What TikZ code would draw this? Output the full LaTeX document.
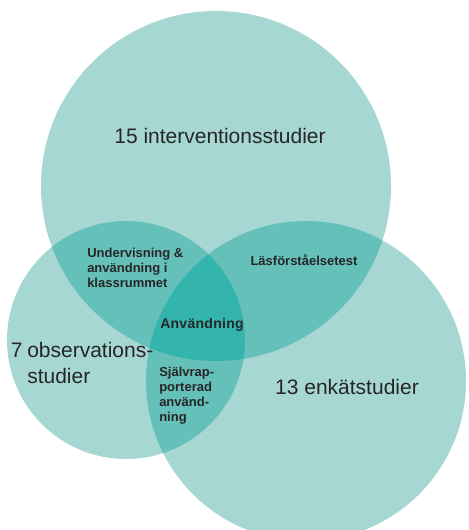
\documentclass[tikz,border=0pt]{standalone}
\usepackage{fontspec}
\setmainfont{Liberation Sans}
\definecolor{cone}{HTML}{A7D7D3}
\definecolor{ctwo}{HTML}{66C0BA}
\definecolor{cthree}{HTML}{33B5AD}
\definecolor{ink}{HTML}{262626}
\tikzset{
  bigtext/.style={font=\fontsize{15.75pt}{19.5pt}\selectfont, text=ink, inner sep=0pt},
  smalltext/.style={font=\fontsize{9.75pt}{11.1pt}\selectfont\bfseries, text=ink, inner sep=0pt, align=left},
}
\begin{document}
\begin{tikzpicture}[x=0.75pt,y=-0.75pt]
\useasboundingbox (0,0) rectangle (468,530);
\coordinate (ct) at (216,186);
\coordinate (cl) at (126,340);
\coordinate (cr) at (306,381);
\def\rt{131.25pt}
\def\rl{89.25pt}
\def\rr{120pt}
\fill[cone] (ct) circle[radius=\rt];
\fill[cone] (cl) circle[radius=\rl];
\fill[cone] (cr) circle[radius=\rr];
\begin{scope}
  \clip (ct) circle[radius=\rt];
  \fill[ctwo] (cl) circle[radius=\rl];
  \fill[ctwo] (cr) circle[radius=\rr];
\end{scope}
\begin{scope}
  \clip (cl) circle[radius=\rl];
  \fill[ctwo] (cr) circle[radius=\rr];
  \clip (cr) circle[radius=\rr];
  \fill[cthree] (ct) circle[radius=\rt];
\end{scope}
\node[bigtext, anchor=base] (inter) at (220,144) {15 interventionsstudier};
\node[bigtext, anchor=base] (enkat) at (347,394) {13 enkätstudier};
\node[bigtext, anchor=base west, align=left] (obs) at (27,383) {\llap{7\hspace{3.5pt}}observations-\\studier};
\node[smalltext, anchor=base west] (und) at (87,287) {Undervisning \&\\användning i\\klassrummet};
\node[smalltext, anchor=base] (las) at (304,266) {Läsförståelsetest};
\node[smalltext, anchor=base west, font=\fontsize{10.5pt}{11.1pt}\selectfont\bfseries\addfontfeatures{LetterSpace=2}] (anv) at (160,328) {Användning};
\node[smalltext, anchor=base west] (sjalv) at (159,421) {Självrap-\\porterad\\använd-\\ning};
\end{tikzpicture}
\end{document}
